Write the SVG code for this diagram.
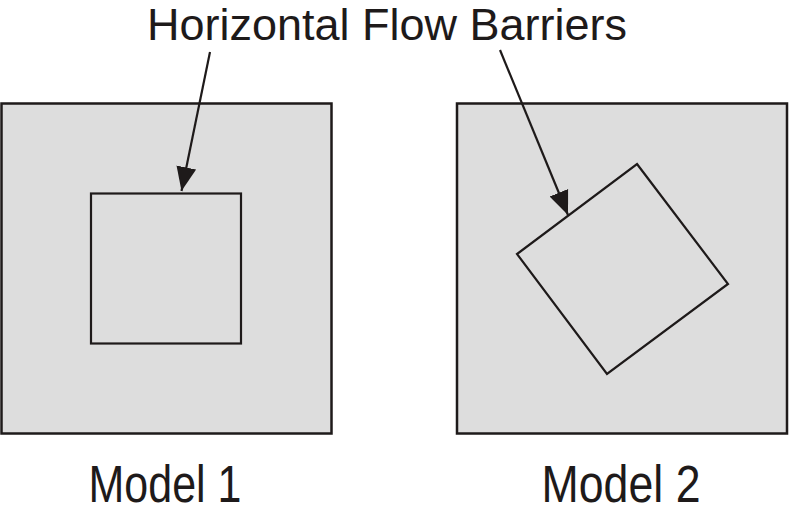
<svg xmlns="http://www.w3.org/2000/svg" width="789" height="526" viewBox="0 0 789 526">
<style>
.panel{fill:#dddddd;stroke:#1e1a1a;stroke-width:2.5}
.barrier{fill:none;stroke:#1e1a1a;stroke-width:2.2;stroke-linejoin:miter}
.lbl{font-family:"Liberation Sans",Arial,sans-serif;fill:#1e1a1a}
.arr{stroke:#1e1a1a;stroke-width:2.2;fill:none}
</style>
<defs>
<marker id="ah2" viewBox="0 0 24 24" refX="24" refY="12" markerWidth="24" markerHeight="24" markerUnits="userSpaceOnUse" orient="auto">
<path d="M0,2 L24,12 L0,22 Z" fill="#1e1a1a"/>
</marker>
</defs>
<g id="model1">
<rect class="panel" x="1.5" y="103.5" width="330" height="330"/>
<rect class="barrier" x="91" y="193.5" width="150" height="150"/>
</g>
<g id="model2">
<rect class="panel" x="457" y="103.5" width="330" height="330"/>
<polygon class="barrier" points="637,164 728,284 607,374 517,254"/>
</g>
<g id="title">
<text class="lbl" x="387" y="40" font-size="44" text-anchor="middle" textLength="480" lengthAdjust="spacingAndGlyphs">Horizontal Flow Barriers</text>
</g>
<g id="label1">
<text class="lbl" x="165" y="502" font-size="51" text-anchor="middle" textLength="153" lengthAdjust="spacingAndGlyphs">Model 1</text>
</g>
<g id="label2">
<text class="lbl" x="621" y="502" font-size="51" text-anchor="middle" textLength="159" lengthAdjust="spacingAndGlyphs">Model 2</text>
</g>
<g id="connectors">
<line class="arr" x1="210" y1="52" x2="181.5" y2="191" marker-end="url(#ah2)"/>
<line class="arr" x1="500" y1="50" x2="568" y2="215" marker-end="url(#ah2)"/>
</g>
</svg>
